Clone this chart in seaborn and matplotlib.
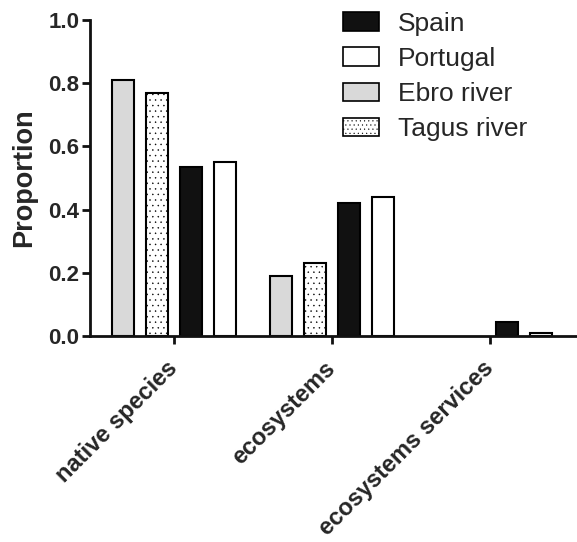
import matplotlib
matplotlib.use("Agg")
import matplotlib.pyplot as plt
import matplotlib.transforms as mtransforms
import seaborn as sns
import pandas as pd
from matplotlib.patches import Patch

categories = ["native species", "ecosystems", "ecosystems services"]
ebro = [0.81, 0.19, 0.0]
tagus = [0.77, 0.23, 0.0]
spain = [0.535, 0.42, 0.045]
portugal = [0.55, 0.44, 0.01]
hue_order = ["Ebro river", "Tagus river", "Spain", "Portugal"]
legend_order = ["Spain", "Portugal", "Ebro river", "Tagus river"]
yticks = [0.0, 0.2, 0.4, 0.6, 0.8, 1.0]

rows = []
for name, vals in zip(hue_order, [ebro, tagus, spain, portugal]):
    for c, v in zip(categories, vals):
        rows.append({"category": c, "region": name, "value": v})
df = pd.DataFrame(rows)

sns.set_style("ticks")
plt.rcParams["font.family"] = ["Liberation Sans", "DejaVu Sans"]
plt.rcParams["hatch.linewidth"] = 0.3
plt.rcParams["hatch.color"] = "#444444"

colors = {"Ebro river": "#d9d9d9", "Tagus river": "#ffffff",
          "Spain": "#111111", "Portugal": "#ffffff"}

fig = plt.figure(figsize=(5.77, 5.42), dpi=100)
ax = fig.add_axes([90 / 577, 206 / 542, 1 - 90 / 577, (336 - 20) / 542])

sns.barplot(data=df, x="category", y="value", hue="region", hue_order=hue_order,
            order=categories, palette=colors, width=0.86, gap=0.34,
            edgecolor="black", linewidth=1.5, legend=False, ax=ax)

for cont, name in zip(ax.containers, hue_order):
    for p in cont:
        if name == "Tagus river":
            p.set_hatch("...")
        if p.get_height() == 0:
            p.set_visible(False)

ax.set_xlim(-0.53, 2.55)
ax.set_ylim(0, 1.0)
ax.set_yticks(yticks)
ax.set_yticklabels([f"{t:.1f}" for t in yticks], fontsize=16, fontweight="bold")
ax.set_xticks(range(len(categories)))
ax.set_xticklabels(categories, fontsize=17, fontweight="bold", rotation=45,
                   ha="right", rotation_mode="anchor")
ax.set_xlabel("")
ax.set_ylabel("Proportion", fontsize=19.5, fontweight="bold", labelpad=8)
ax.tick_params(axis="both", width=2, length=6, color="#111111")
ax.tick_params(axis="y", pad=1.5)
ax.tick_params(axis="x", pad=9)
for s in ["left", "bottom"]:
    ax.spines[s].set_linewidth(2)
    ax.spines[s].set_color("#111111")
sns.despine(ax=ax)

fig.canvas.draw()
offset = mtransforms.ScaledTranslation(-8 / 100, 0, fig.dpi_scale_trans)
for lab in ax.get_xticklabels():
    lab.set_transform(lab.get_transform() + offset)

handles = []
for name in legend_order:
    h = Patch(facecolor=colors[name], edgecolor="black", linewidth=1.2,
              hatch="...." if name == "Tagus river" else None)
    handles.append(h)
fig.legend(handles, legend_order, loc="upper left",
           bbox_to_anchor=(343 / 577, 1 - 12 / 542), frameon=False,
           fontsize=19, handlelength=1.36, handleheight=0.72,
           handletextpad=0.72, labelspacing=0.42, borderpad=0,
           borderaxespad=0)

fig.savefig("out.png", dpi=100)
